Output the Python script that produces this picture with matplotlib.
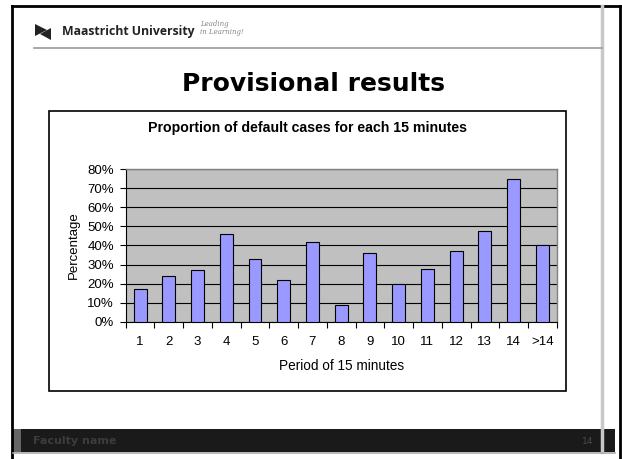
import matplotlib
matplotlib.use("Agg")
import matplotlib.pyplot as plt
from matplotlib.patches import Rectangle, Polygon
from matplotlib.lines import Line2D
import numpy as np

categories = ["1", "2", "3", "4", "5", "6", "7", "8", "9", "10", "11", "12", "13", "14", ">14"]
values = [0.17, 0.24, 0.27, 0.46, 0.33, 0.22, 0.42, 0.09, 0.36, 0.20, 0.275, 0.37, 0.475, 0.75, 0.40]
ytick_vals = [0.0, 0.1, 0.2, 0.3, 0.4, 0.5, 0.6, 0.7, 0.8]
ytick_labels = ["0%", "10%", "20%", "30%", "40%", "50%", "60%", "70%", "80%"]

W, H = 622, 459
fig = plt.figure(figsize=(W / 100, H / 100), dpi=100)
fig.patch.set_facecolor("white")

def fx(px):
    return px / W

def fy(py):
    return 1 - py / H

def rect(x0, y0, x1, y1, **kw):
    fig.patches.append(Rectangle((fx(x0), fy(y1)), fx(x1) - fx(x0), fy(y0) - fy(y1),
                                 transform=fig.transFigure, zorder=-1, **kw))

def hline(x0, x1, y, **kw):
    fig.lines.append(Line2D([fx(x0), fx(x1)], [fy(y), fy(y)], transform=fig.transFigure, **kw))

def vline(x, y0, y1, **kw):
    fig.lines.append(Line2D([fx(x), fx(x)], [fy(y0), fy(y1)], transform=fig.transFigure, **kw))

# slide frame
hline(12, 620, 6, color="black", lw=2)
vline(12, 6, 459, color="black", lw=2)
vline(620, 6, 459, color="black", lw=2)
vline(602, 6, 452, color="#c8c8c8", lw=2.5)

# header logo
fig.patches.append(Polygon([(fx(35), fy(24)), (fx(47), fy(30)), (fx(35), fy(36))], closed=True,
                           transform=fig.transFigure, facecolor="#222222", edgecolor="none"))
fig.patches.append(Polygon([(fx(51), fy(28)), (fx(51), fy(40)), (fx(40), fy(34))], closed=True,
                           transform=fig.transFigure, facecolor="#222222", edgecolor="none"))
fig.text(fx(62), fy(32), "Maastricht University", fontsize=8.8, fontweight="bold",
         family=["Open Sans", "DejaVu Sans"], color="#222222", va="center", ha="left")
fig.text(fx(200), fy(24), "Leading", fontsize=5, style="italic", color="#888888",
         va="center", ha="left", family="DejaVu Serif")
fig.text(fx(200), fy(32), "in Learning!", fontsize=5, style="italic", color="#888888",
         va="center", ha="left", family="DejaVu Serif")
hline(34, 602, 48, color="#9a9a9a", lw=1.2)

# slide title
fig.text(fx(314), fy(84), "Provisional results", fontsize=18, fontweight="bold",
         family="DejaVu Sans", ha="center", va="center", color="black")

# chart box
rect(48.5, 110.7, 565.7, 391, facecolor="white", edgecolor="black", lw=1.2)
fig.text(fx(308), fy(128), "Proportion of default cases for each 15 minutes", fontsize=10.2,
         fontweight="bold", family="Liberation Sans", ha="center", va="center", color="black")

# footer
rect(21, 429, 615, 452, facecolor="#1a1a1a", edgecolor="none")
rect(13, 429, 21, 452, facecolor="#666666", edgecolor="none")
hline(13, 615, 453, color="#aaaaaa", lw=1.2)
fig.text(fx(33), fy(441), "Faculty name", fontsize=8, fontweight="bold", family="DejaVu Sans",
         color="#3c3c3c", va="center", ha="left")
fig.text(fx(593), fy(441), "14", fontsize=6.5, family="DejaVu Sans", color="#4a4a4a",
         va="center", ha="right")

# axes
ax = fig.add_axes([fx(125.7), fy(321.7), fx(556.7) - fx(125.7), fy(169.3) - fy(321.7)])
ax.set_zorder(5)
ax.set_facecolor("#c0c0c0")
x = np.arange(len(categories))
ax.bar(x, values, width=0.45, color="#9999ff", edgecolor="black", linewidth=0.8, zorder=3)
ax.set_xlim(-0.5, len(categories) - 0.5)
ax.set_ylim(0, 0.8)
ax.set_yticks(ytick_vals)
ax.set_yticklabels(ytick_labels, family="Liberation Sans", fontsize=9.5)
ax.yaxis.grid(True, color="black", lw=0.8, zorder=1)
ax.set_axisbelow(True)
ax.set_xticks(x)
ax.set_xticklabels(categories, family="Liberation Sans", fontsize=9.5)
ax.set_xticks(np.arange(-0.5, len(categories)), minor=True)
ax.tick_params(axis="x", which="major", length=0, pad=10)
ax.tick_params(axis="x", which="minor", length=4, width=0.8, direction="out")
ax.tick_params(axis="y", which="major", length=4.5, width=0.8, direction="out", pad=4)
for s in ["top", "right"]:
    ax.spines[s].set_color("#808080")
    ax.spines[s].set_linewidth(1)
for s in ["left", "bottom"]:
    ax.spines[s].set_color("black")
    ax.spines[s].set_linewidth(0.8)
ax.set_ylabel("Percentage", family="Liberation Sans", fontsize=9.5, labelpad=5)
ax.set_xlabel("Period of 15 minutes", family="Liberation Sans", fontsize=9.8, labelpad=8)

fig.savefig("out.png", dpi=100)
